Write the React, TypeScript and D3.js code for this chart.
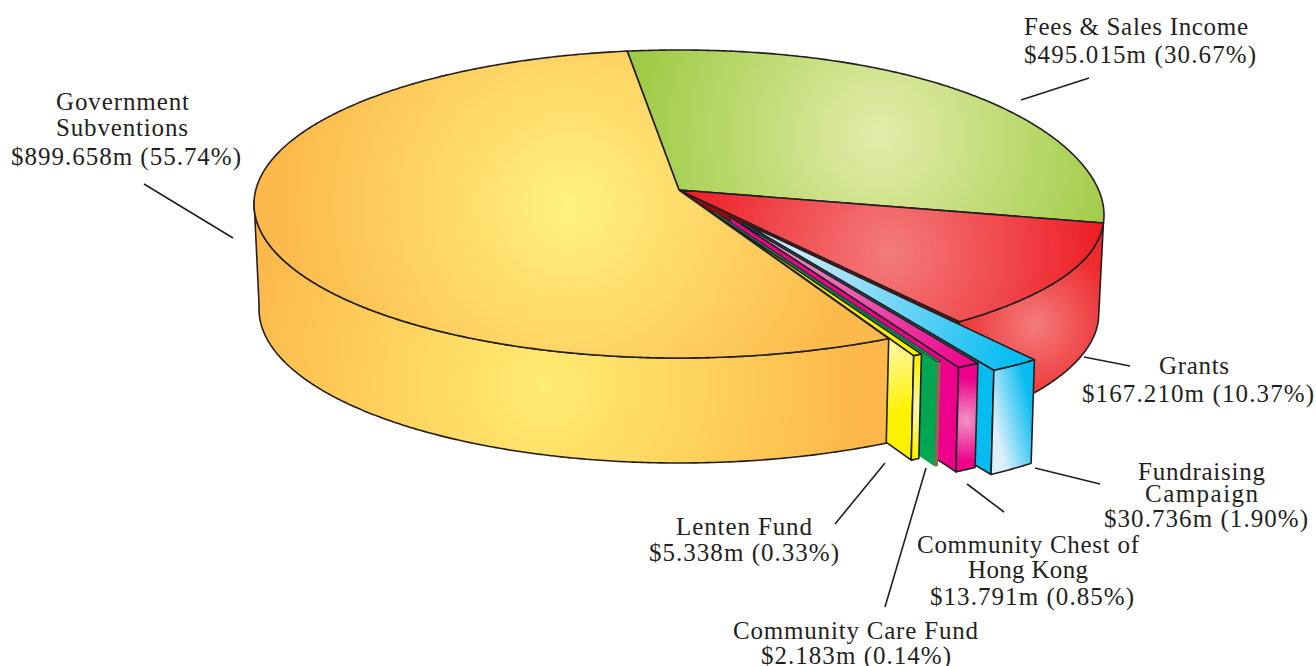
import React from "react";
import * as d3 from "d3";

// chart values, in drawing order round the pie
const sources = [
  "Fees & Sales Income",
  "Grants",
  "Fundraising Campaign",
  "Community Chest of Hong Kong",
  "Community Care Fund",
  "Lenten Fund",
  "Government Subventions",
];
const amounts = [495.015, 167.21, 30.736, 13.791, 2.183, 5.338, 899.658];
const shares = [30.67, 10.37, 1.9, 0.85, 0.14, 0.33, 55.74];

// label lines: text, left edge, baseline, width
const labels: [string, number, number, number][] = [
  ["Government", 56, 110, 133],
  ["Subventions", 56, 136, 132],
  ["$899.658m (55.74%)", 11, 165, 230],
  ["Fees & Sales Income", 1024, 35, 224],
  ["$495.015m (30.67%)", 1024, 63, 232],
  ["Grants", 1159, 374, 70],
  ["$167.210m (10.37%)", 1082, 402, 232],
  ["Fundraising", 1138, 480, 127],
  ["Campaign", 1145, 502, 113],
  ["$30.736m (1.90%)", 1104, 527, 204],
  ["Community Chest of", 917, 553, 222],
  ["Hong Kong", 968, 578, 120],
  ["$13.791m (0.85%)", 930, 605, 204],
  ["Community Care Fund", 733, 639, 245],
  ["$2.183m (0.14%)", 761, 664, 190],
  ["Lenten Fund", 676, 535, 136],
  ["$5.338m (0.33%)", 649, 561, 190],
];

const leaders = [
  [144, 184, 233, 238],
  [1021, 100, 1089, 78],
  [1084, 357, 1130, 366],
  [1035, 468, 1100, 484],
  [967, 484, 1004, 512],
  [926, 468, 885, 607],
  [885, 463, 835, 524],
];

// how far each slice is pulled out of the pie
const explode: [number, number][] = [
  [0, 0],
  [0, 0],
  [75, 38],
  [59, 31],
  [41, 25],
  [25, 17],
  [0, 0],
];
// the tip of a pulled slice moves a bit less than its rim
const tipPull = 0.86;

const width = 1316;
const height = 666;
const ink = "#231f20";
const cx = 679;
const cy = 204;
const rx = 425;
const ry = 154;
const depth = 105;
const apex = { x: 679, y: 190 };
const rad = (d: number) => (d * Math.PI) / 180;

// the drawing is not a true ellipse, the right hand part is squeezed
const rimAngle = d3
  .scaleLinear()
  .domain([-99, 11.4, 48.7, 261])
  .range([-97, 3, 48.7, 263]);

const pie = d3
  .pie<number>()
  .sort(null)
  .value((d) => d)
  .startAngle(rad(-99))
  .endAngle(rad(261));
const arcs = pie(amounts);

const rimPoint = (deg: number, low: boolean, off: [number, number]) => {
  const t = rad(rimAngle(deg));
  const c = Math.cos(t);
  const bump = c > 0 ? 11 * c ** 4 : 0;
  const r = low ? rx - 5 : rx;
  return [
    cx + r * c + off[0],
    cy + ry * Math.sin(t) + (low ? depth + bump * 0.3 : bump) + off[1],
  ] as [number, number];
};

const rimPoints = (a0: number, a1: number, low: boolean, off: [number, number]) => {
  const n = Math.max(2, Math.ceil(Math.abs(a1 - a0) * 2));
  return d3.range(n + 1).map((i) => rimPoint(a0 + ((a1 - a0) * i) / n, low, off));
};

const tip = (off: [number, number], low = false) =>
  [apex.x + off[0] * tipPull, apex.y + off[1] * tipPull + (low ? depth : 0)] as [number, number];

const closed = d3.line();
const toDeg = (r: number) => (r * 180) / Math.PI;

const topPath = (i: number) => {
  const a = arcs[i];
  const off = explode[i];
  const pts = rimPoints(toDeg(a.startAngle), toDeg(a.endAngle), false, off);
  return closed([tip(off), ...pts]) + "Z";
};

// outer face, only the part that faces the viewer when "to" is given
const sidePath = (i: number, to?: number) => {
  const a = arcs[i];
  const off = explode[i];
  const a0 = toDeg(a.startAngle);
  const a1 = to ?? toDeg(a.endAngle);
  return closed([...rimPoints(a0, a1, false, off), ...rimPoints(a1, a0, true, off)]) + "Z";
};

// the cut face on the clockwise end of a slice
const wallPath = (i: number) => {
  const off = explode[i];
  const a1 = toDeg(arcs[i].endAngle);
  return (
    closed([tip(off), rimPoint(a1, false, off), rimPoint(a1, true, off), tip(off, true)]) + "Z"
  );
};

const Radial = ({ id, x, y, r, c0, c1 }: any) => (
  <radialGradient id={id} gradientUnits="userSpaceOnUse" cx={x} cy={y} r={r}>
    <stop offset="0" stopColor={c0} />
    <stop offset="1" stopColor={c1} />
  </radialGradient>
);

const Linear = ({ id, x1, y1, x2, y2, c0, c1 }: any) => (
  <linearGradient id={id} gradientUnits="userSpaceOnUse" x1={x1} y1={y1} x2={x2} y2={y2}>
    <stop offset="0" stopColor={c0} />
    <stop offset="1" stopColor={c1} />
  </linearGradient>
);

const App = () => {
  const line = { stroke: ink, strokeWidth: 1.6, strokeLinejoin: "round" as const };
  return (
    <svg
      width={width}
      height={height}
      style={{ position: "absolute", left: 0, top: 0 }}
      aria-label={sources.map((s, i) => `${s} ${amounts[i]} ${shares[i]}%`).join(", ")}
    >
      <defs>
        <Radial id="govTop" x={570} y={205} r={290} c0="#fff27f" c1="#fdb94c" />
        <Radial id="govSide" x={545} y={385} r={320} c0="#ffec72" c1="#fdb74a" />
        <Radial id="feesTop" x={880} y={135} r={250} c0="#e4ecaa" c1="#9ecb45" />
        <Radial id="grantsTop" x={890} y={252} r={215} c0="#f47c7c" c1="#ed1c24" />
        <Radial id="grantsSide" x={1035} y={325} r={85} c0="#f47c7c" c1="#ed2a2c" />
        <Linear id="fundTop" x1={800} y1={280} x2={1020} y2={340} c0="#c4e9fb" c1="#06bcf1" />
        <Linear id="fundFront" x1={993} y1={420} x2={1033} y2={410} c0="#dceffa" c1="#06bcf1" />
        <Linear id="chestTop" x1={780} y1={270} x2={975} y2={365} c0="#e88fc0" c1="#ec008c" />
        <Radial id="chestFront" x={966} y={420} r={42} c0="#f193c4" c1="#ec008c" />
        <Linear id="lentenWall" x1={885} y1={350} x2={910} y2={410} c0="#fff799" c1="#fff200" />
        <Radial id="lentenFront" x={915} y={408} r={48} c0="#fff6b4" c1="#fff200" />
      </defs>

      <path d={topPath(0)} fill="url(#feesTop)" {...line} />

      <path d={sidePath(1)} fill="url(#grantsSide)" {...line} />
      <path d={wallPath(1)} fill="#8b0d0f" {...line} />
      <path d={topPath(1)} fill="url(#grantsTop)" {...line} />

      <path d={wallPath(2)} fill="#06bcf1" {...line} />
      <path d={sidePath(2)} fill="url(#fundFront)" {...line} />
      <path d={topPath(2)} fill="url(#fundTop)" {...line} />

      <path d={wallPath(3)} fill="#ec008c" {...line} />
      <path d={sidePath(3)} fill="url(#chestFront)" {...line} />
      <path d={topPath(3)} fill="url(#chestTop)" {...line} />

      <path d={wallPath(4)} fill="#00a651" />
      <path d={sidePath(4)} fill="#8f6b45" />
      <path d={topPath(4)} fill="#00a651" stroke={ink} strokeWidth={0.8} />

      <path d={wallPath(5)} fill="url(#lentenWall)" {...line} />
      <path d={sidePath(5)} fill="url(#lentenFront)" {...line} />
      <path d={topPath(5)} fill="#fff200" {...line} />

      <path d={sidePath(6, 180)} fill="url(#govSide)" {...line} />
      <path d={topPath(6)} fill="url(#govTop)" {...line} />

      {leaders.map((l, i) => (
        <line key={i} x1={l[0]} y1={l[1]} x2={l[2]} y2={l[3]} stroke={ink} strokeWidth={1.6} />
      ))}

      {labels.map(([text, x, y, w]) => (
        <text
          key={text}
          x={x}
          y={y}
          textLength={w}
          lengthAdjust="spacing"
          fontFamily="'Liberation Serif', serif"
          fontSize={25}
          fill={ink}
        >
          {text}
        </text>
      ))}
    </svg>
  );
};

export default App;
